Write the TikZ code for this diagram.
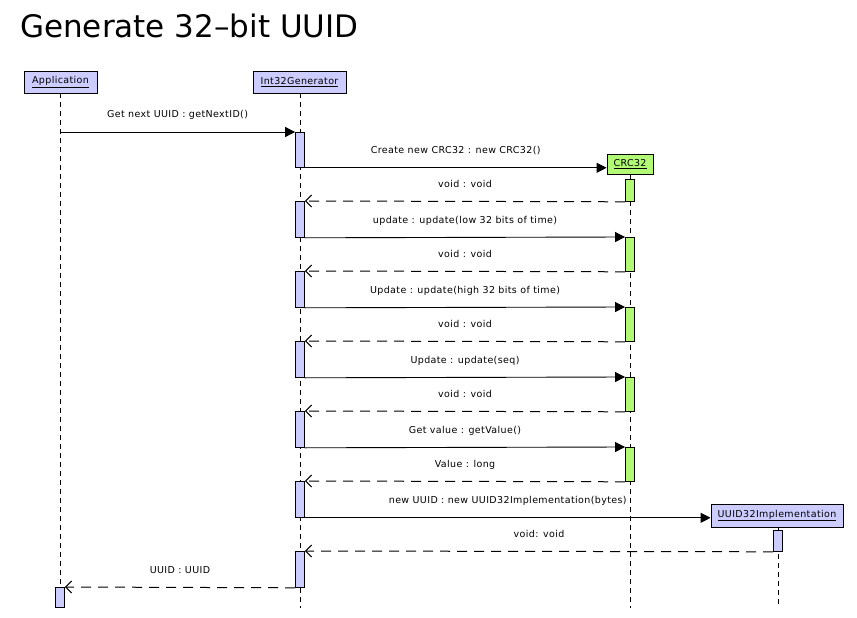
\documentclass[tikz,border=0pt]{standalone}
\usepackage{fontspec}
\setmainfont{DejaVu Sans}
\usetikzlibrary{arrows.meta}
\definecolor{lav}{RGB}{204,204,255}
\definecolor{lgreen}{RGB}{178,250,118}
\begin{document}
\begin{tikzpicture}[x=1pt,y=-1pt,
  head/.style={draw, line width=0.8pt, fill=lav, inner sep=0, minimum height=22, font=\fontsize{9.5}{11}\selectfont\addfontfeature{LetterSpace=4}},
  headg/.style={head, fill=lgreen},
  actbar/.style={draw, line width=0.8pt, fill=lav, minimum width=9, inner sep=0, anchor=north},
  actg/.style={actbar, fill=lgreen},
  life/.style={dash pattern=on 5pt off 4pt, line width=0.7pt},
  msg/.style={-{Triangle[length=10pt,width=10pt]}, line width=0.9pt},
  ret/.style={-{Straight Barb[length=6pt,width=12pt]}, dash pattern=on 10pt off 7pt, line width=1pt},
  lbl/.style={font=\fontsize{9.5}{10}\selectfont\addfontfeature{LetterSpace=4}, inner sep=0, midway, yshift=17pt}
]
\useasboundingbox[fill=white] (0,0) rectangle (857,618);
\node[anchor=base west, font=\fontsize{31}{36}\selectfont, inner sep=0] (title) at (20,38) {Generate 32–bit UUID};

% heads
\node[head, minimum width=73] (appH) at (60.5,82) {\underline{Application}};
\node[head, minimum width=93] (genH) at (299.5,82) {\underline{Int32Generator}};
\node[headg, minimum width=46, minimum height=20] (crcH) at (630,164) {\underline{CRC32}};
\node[head, minimum width=132, minimum height=23] (uuidH) at (777,515.5) {\underline{UUID32Implementation}};

% lifelines
\coordinate (appL) at (60,608);
\coordinate (genL) at (300,608);
\coordinate (crcL) at (630,608);
\coordinate (uuidL) at (778,608);
\draw[life] (appL |- appH.south) -- (appL);
\draw[life] (genL |- genH.south) -- (genL);
\draw[life] (crcL |- crcH.south) -- (crcL);
\draw[life] (uuidL |- uuidH.south) -- (uuidL);

% activations
\node[actbar, minimum height=35] (a1) at (300,132) {};
\node[actbar, minimum height=36] (a2) at (300,201) {};
\node[actbar, minimum height=36] (a3) at (300,271) {};
\node[actbar, minimum height=36] (a4) at (300,341) {};
\node[actbar, minimum height=36] (a5) at (300,411) {};
\node[actbar, minimum height=36] (a6) at (300,481) {};
\node[actbar, minimum height=36] (a7) at (300,551) {};
\node[actg, minimum height=22] (c1) at (630,179) {};
\node[actg, minimum height=34] (c2) at (630,237) {};
\node[actg, minimum height=34] (c3) at (630,307) {};
\node[actg, minimum height=34] (c4) at (630,377) {};
\node[actg, minimum height=34] (c5) at (630,447) {};
\node[actbar, minimum height=21] (u1) at (778,530) {};
\node[actbar, minimum height=20] (p1) at (60,587) {};

% messages
\draw[msg] (a1.north west -| appL) -- node[lbl] {Get next UUID : getNextID()} (a1.north west);
\draw[msg] (a1.south east) -- node[lbl] {Create new CRC32 : new CRC32()} (a1.south east -| crcH.west);
\draw[ret] (c1.south west) -- node[lbl] {void : void} (a2.north east);
\draw[msg] (a2.south east) -- node[lbl] {update : update(low 32 bits of time)} (c2.north west);
\draw[ret] (c2.south west) -- node[lbl] {void : void} (a3.north east);
\draw[msg] (a3.south east) -- node[lbl] {Update : update(high 32 bits of time)} (c3.north west);
\draw[ret] (c3.south west) -- node[lbl] {void : void} (a4.north east);
\draw[msg] (a4.south east) -- node[lbl] {Update : update(seq)} (c4.north west);
\draw[ret] (c4.south west) -- node[lbl] {void : void} (a5.north east);
\draw[msg] (a5.south east) -- node[lbl] {Get value : getValue()} (c5.north west);
\draw[ret] (c5.south west) -- node[lbl] {Value : long} (a6.north east);
\draw[msg] (a6.south east) -- node[lbl] {new UUID : new UUID32Implementation(bytes)} (a6.south east -| uuidH.west);
\draw[ret] (u1.south west) -- node[lbl] {void: void} (a7.north east);
\draw[ret] (a7.south west) -- node[lbl] {UUID : UUID} (p1.north east);
\end{tikzpicture}
\end{document}
